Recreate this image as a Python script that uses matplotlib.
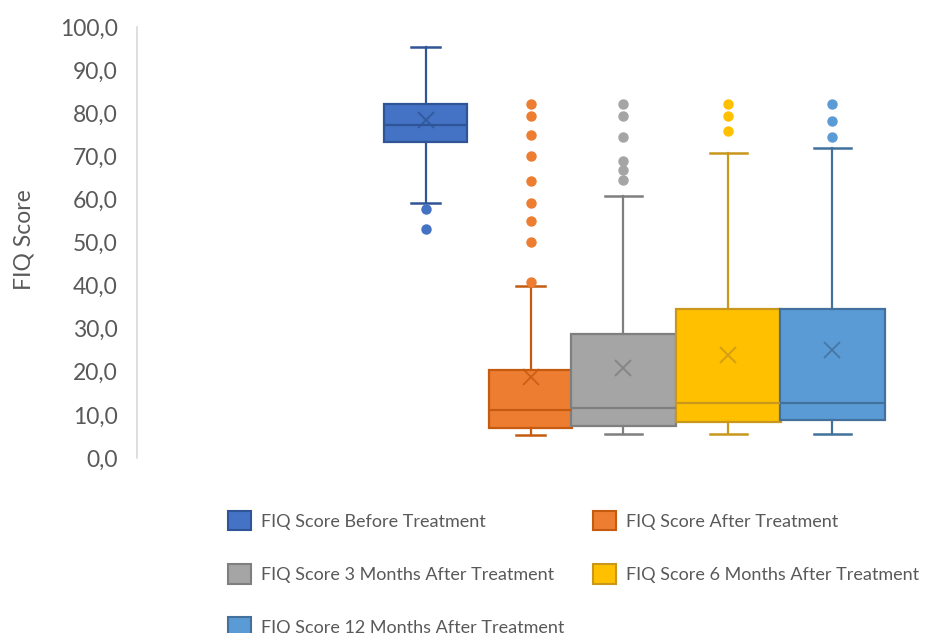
import matplotlib
matplotlib.use("Agg")
import matplotlib.pyplot as plt
from matplotlib.patches import Patch

# ---- data ----
series = ["FIQ Score Before Treatment",
          "FIQ Score After Treatment",
          "FIQ Score 3 Months After Treatment",
          "FIQ Score 6 Months After Treatment",
          "FIQ Score 12 Months After Treatment"]
whislo = [59.2, 5.3, 5.5, 5.5, 5.5]
q1 = [73.3, 6.9, 7.5, 8.4, 8.8]
med = [77.3, 11.1, 11.7, 12.8, 12.8]
q3 = [82.1, 20.4, 28.8, 34.6, 34.6]
whishi = [95.4, 40.0, 60.8, 70.7, 72.0]
means = [78.4, 18.9, 20.8, 23.9, 25.1]
fliers = [
    [57.8, 53.1],
    [82.2, 79.4, 74.9, 70.1, 64.3, 59.2, 55.1, 50.2, 40.9],
    [82.2, 79.4, 74.5, 69.0, 66.8, 64.5],
    [82.2, 79.4, 75.9],
    [82.2, 78.3, 74.5],
]
yticks = [0, 10, 20, 30, 40, 50, 60, 70, 80, 90, 100]
ytick_labels = ["0,0", "10,0", "20,0", "30,0", "40,0", "50,0", "60,0",
                "70,0", "80,0", "90,0", "100,0"]

# ---- layout / style ----
positions = [0, 1.03, 1.94, 2.97, 3.99]
widths = [0.81, 0.82, 1.03, 1.03, 1.03]
fills = ["#4472C4", "#ED7D31", "#A5A5A5", "#FFC000", "#5B9BD5"]
edges = ["#2F5597", "#C55A11", "#7F7F7F", "#C9971C", "#41719C"]

plt.rcParams['font.family'] = ['Lato', 'DejaVu Sans']

fig = plt.figure(figsize=(9.27, 6.33), dpi=100)
W, H = 927, 633
ax = fig.add_axes([137 / W, 1 - 458 / H, (910 - 137) / W, (458 - 27) / H])

for i in range(len(series)):
    st = dict(whislo=whislo[i], q1=q1[i], med=med[i], q3=q3[i],
              whishi=whishi[i], mean=means[i], fliers=fliers[i], label=series[i])
    ax.bxp([st], positions=[positions[i]], widths=[widths[i]],
           patch_artist=True, showmeans=True, showfliers=True,
           capwidths=[0.35 * widths[i]],
           boxprops=dict(facecolor=fills[i], edgecolor=edges[i], linewidth=1.6),
           medianprops=dict(color=edges[i], linewidth=1.6),
           whiskerprops=dict(color=edges[i], linewidth=1.6),
           capprops=dict(color=edges[i], linewidth=1.8),
           meanprops=dict(marker='x', markeredgecolor=edges[i], markersize=12,
                          markeredgewidth=1.4, alpha=0.8),
           flierprops=dict(marker='o', markerfacecolor=fills[i],
                           markeredgecolor=fills[i], markersize=6.5))

ax.set_xlim((137 - 425.5) / 102, (910 - 425.5) / 102)
ax.set_ylim(0, 100)
ax.set_yticks(yticks)
ax.set_yticklabels(ytick_labels)
ax.tick_params(axis='y', length=0, pad=14, labelsize=16.5, labelcolor='#595959')
ax.set_xticks([])
for s in ['top', 'right', 'bottom']:
    ax.spines[s].set_visible(False)
ax.spines['left'].set_color('#D9D9D9')
ax.spines['left'].set_linewidth(1.2)
ax.set_ylabel("FIQ Score", fontsize=16.5, color='#595959')
ax.yaxis.set_label_coords((34 - 137) / 773, 0.506)

handles = [Patch(facecolor=fills[i], edgecolor=edges[i], linewidth=1.5) for i in range(5)]
order = [0, 2, 4, 1, 3]
leg = fig.legend([handles[i] for i in order], [series[i] for i in order],
                 ncol=2, loc='upper left', bbox_to_anchor=(228 / W, 1 - 511 / H),
                 frameon=False, fontsize=13, labelcolor='#595959',
                 handlelength=1.28, handleheight=1.28, handletextpad=0.55,
                 labelspacing=1.87, columnspacing=1.6, borderaxespad=0, borderpad=0)

fig.savefig("out.png", dpi=100)
